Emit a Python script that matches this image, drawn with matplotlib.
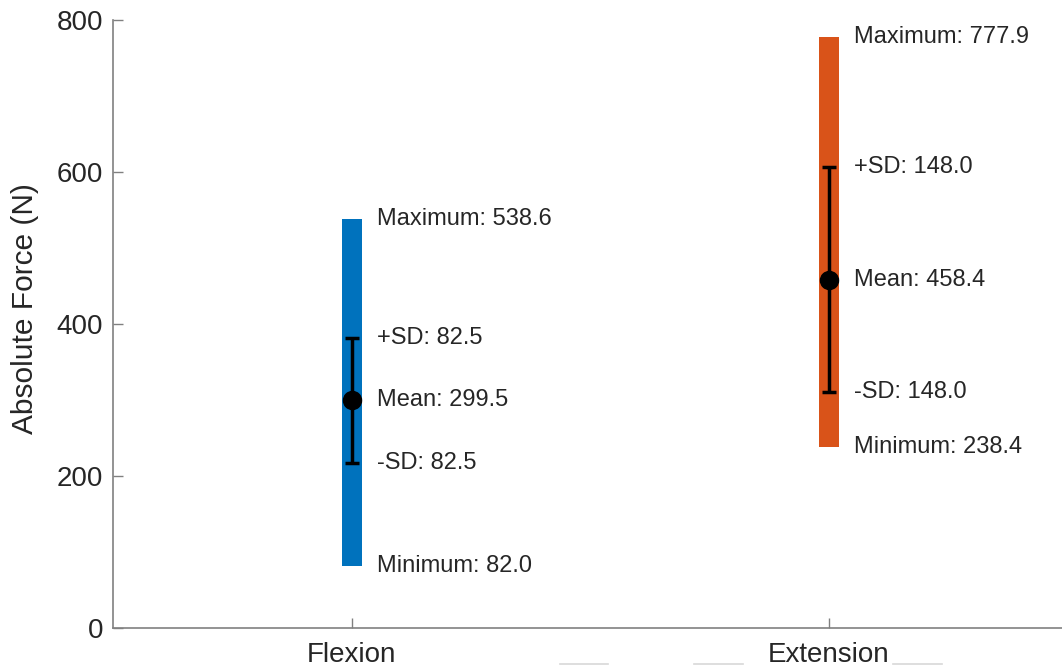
import numpy as np
import matplotlib.pyplot as plt
from matplotlib.lines import Line2D

plt.rcParams['font.family'] = ['Liberation Sans', 'DejaVu Sans']

# data
categories = ['Flexion', 'Extension']
means = [299.5, 458.4]
sds = [82.5, 148.0]
minimums = [82.0, 238.4]
maximums = [538.6, 777.9]
colors = ['#0072BD', '#D95319']

x = np.arange(1, len(categories) + 1)

fig = plt.figure(figsize=(10.62, 6.66), dpi=100)
ax = fig.add_axes([0.1064, 0.0571, 0.899, 0.9129])

# range bars (min to max)
ax.bar(x, np.array(maximums) - np.array(minimums), bottom=minimums,
       width=0.042, color=colors, zorder=1)

# mean +/- SD
ax.errorbar(x, means, yerr=sds, fmt='o', color='black', ms=13,
            elinewidth=2.5, capsize=5, capthick=2.5, zorder=3)

# annotations
dx = 0.052
tc = '#262626'
for xi, m, s, lo, hi in zip(x, means, sds, minimums, maximums):
    ax.text(xi + dx, hi, f'Maximum: {hi:.1f}', va='center', ha='left', fontsize=17, color=tc)
    ax.text(xi + dx, m + s, f'+SD: {s:.1f}', va='center', ha='left', fontsize=17, color=tc)
    ax.text(xi + dx, m, f'Mean: {m:.1f}', va='center', ha='left', fontsize=17, color=tc)
    ax.text(xi + dx, m - s, f'-SD: {s:.1f}', va='center', ha='left', fontsize=17, color=tc)
    ax.text(xi + dx, lo, f'Minimum: {lo:.1f}', va='center', ha='left', fontsize=17, color=tc)

ax.set_xlim(0.5, 2.5)
ax.set_ylim(0, 800)
ax.set_xticks(x)
ax.set_xticklabels(categories)
ax.set_yticks([0, 200, 400, 600, 800])
ax.set_ylabel('Absolute Force (N)', fontsize=21.5, color=tc)
ax.yaxis.set_label_coords(-0.077, 0.526)

for side in ['top', 'right']:
    ax.spines[side].set_visible(False)
for side in ['left', 'bottom']:
    ax.spines[side].set_color('#808080')
    ax.spines[side].set_linewidth(1.2)
ax.tick_params(axis='both', direction='in', length=7, width=1, color='#808080',
               labelsize=20, labelcolor=tc)
ax.tick_params(axis='x', pad=10)
ax.tick_params(axis='y', pad=7)

# faint stray segments along bottom edge
for x0, x1 in [(560, 608), (694, 743), (893, 942)]:
    fig.add_artist(Line2D([x0 / 1062, x1 / 1062], [2 / 666, 2 / 666],
                          color='#d8d8d8', lw=1.2))

fig.savefig('out.png', dpi=100)
